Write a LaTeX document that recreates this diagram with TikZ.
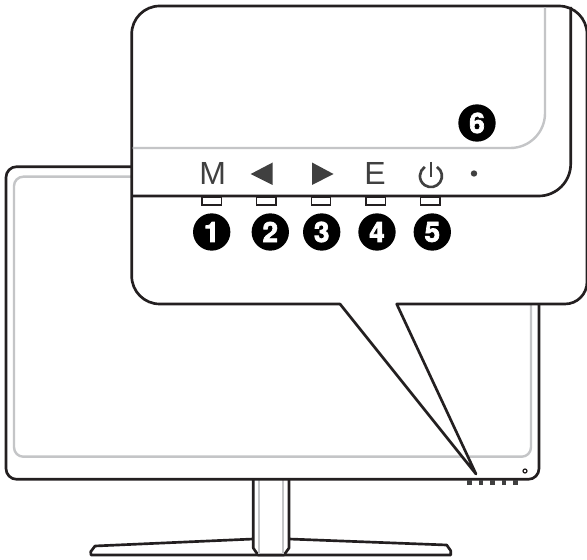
\documentclass[tikz,border=0pt]{standalone}
\usepackage{fontspec}
\setmainfont{Liberation Sans}
\newfontfamily\badgefont[FakeBold=2.5]{TeX Gyre Heros Bold}
\definecolor{bezelgray}{RGB}{196,197,199}
\definecolor{keygray}{RGB}{64,64,64}
\definecolor{linedark}{RGB}{35,31,32}
\tikzset{
  outline/.style={draw=linedark, line width=2pt, line join=round},
  bezel/.style={draw=bezelgray, line width=1.8pt},
  badge/.style={circle, fill=black, text=white, minimum size=28pt, inner sep=0pt, font=\badgefont\fontsize{21}{21}\selectfont},
  keylabel/.style={text=keygray, inner sep=0pt, font=\fontsize{24}{24}\selectfont},
  keybox/.style={draw=linedark, line width=1.2pt, fill=white, minimum width=14.5pt, minimum height=6pt, inner sep=0pt},
  tinykey/.style={fill=keygray, minimum width=3.2pt, minimum height=3.2pt, inner sep=0pt}
}
\begin{document}
\begin{tikzpicture}[x=0.75pt, y=-0.75pt]
\useasboundingbox (0,0) rectangle (587,560);

\draw[outline, fill=white](253.3,539)--(95,546)--(90.7,551.7)--(91,555)--(450.7,555)--(450.7,550.7)--(446.7,545)--(289,539);
\draw[outline, fill=white](253.3,479)--(253.3,548)--(258,555)--(284,555)--(289,548)--(289,479);
\draw[bezelgray, line width=1pt](259,480)--(259,554);
\draw[bezelgray, line width=1pt](283,480)--(283,554);

\draw[outline, fill=white, rounded corners=8](6,166.7) rectangle (539,479.3);
\draw[bezel, rounded corners=7](14,176.7) rectangle (531,456.7);

\node[tinykey] (tinyA) at (469.5,482.5) {};
\node[tinykey] (tinyB) at (481,482.5) {};
\node[tinykey] (tinyC) at (492.5,482.5) {};
\node[tinykey] (tinyD) at (504,482.5) {};
\node[tinykey] (tinyE) at (515.5,482.5) {};
\draw[linedark, line width=0.9pt](525,471)circle (2);

\coordinate (tip) at (476,474);
\draw[outline, fill=white](587,282) arc (0:90:22)--(396.7,304)--(tip)--(340,304)--(159.7,304) arc (90:180:28)--(131.7,34) arc (180:270:28)--(559,6) arc (270:360:28)--cycle;

\draw[bezel, rounded corners=26](132.5,148)--(545,148)--(545,7.5);

\node[keybox, anchor=north] (keyA) at (211.7,196) {};
\node[keybox, anchor=north] (keyB) at (266.3,196) {};
\node[keybox, anchor=north] (keyC) at (321,196) {};
\node[keybox, anchor=north] (keyD) at (375.7,196) {};
\node[keybox, anchor=north] (keyE) at (430.3,196) {};
\draw[outline, rounded corners=24](132.5,196)--(570.7,196)--(570.7,7);

\node[keylabel] (menu) at (212.7,173.5) {M};
\fill[keygray](250.7,174)--(272.7,162.5)--(272.7,185)--cycle;
\fill[keygray](312,162.5)--(333.5,174)--(312,185)--cycle;
\node[keylabel] (exit) at (375,173.5) {E};
\draw[keygray, line width=2pt](437,166.9) arc (-56.5:236.5:11);
\draw[keygray, line width=2pt](431,162)--(431,177);
\fill[keygray](474,173.5)circle (3.2);

\node[badge] (one) at (211.7,232) {1};
\node[badge] (two) at (270.3,232) {2};
\node[badge] (three) at (321.7,232) {3};
\node[badge] (four) at (377,232) {4};
\node[badge] (five) at (432.3,232) {5};
\node[badge] (six) at (477,123) {6};
\end{tikzpicture}
\end{document}
